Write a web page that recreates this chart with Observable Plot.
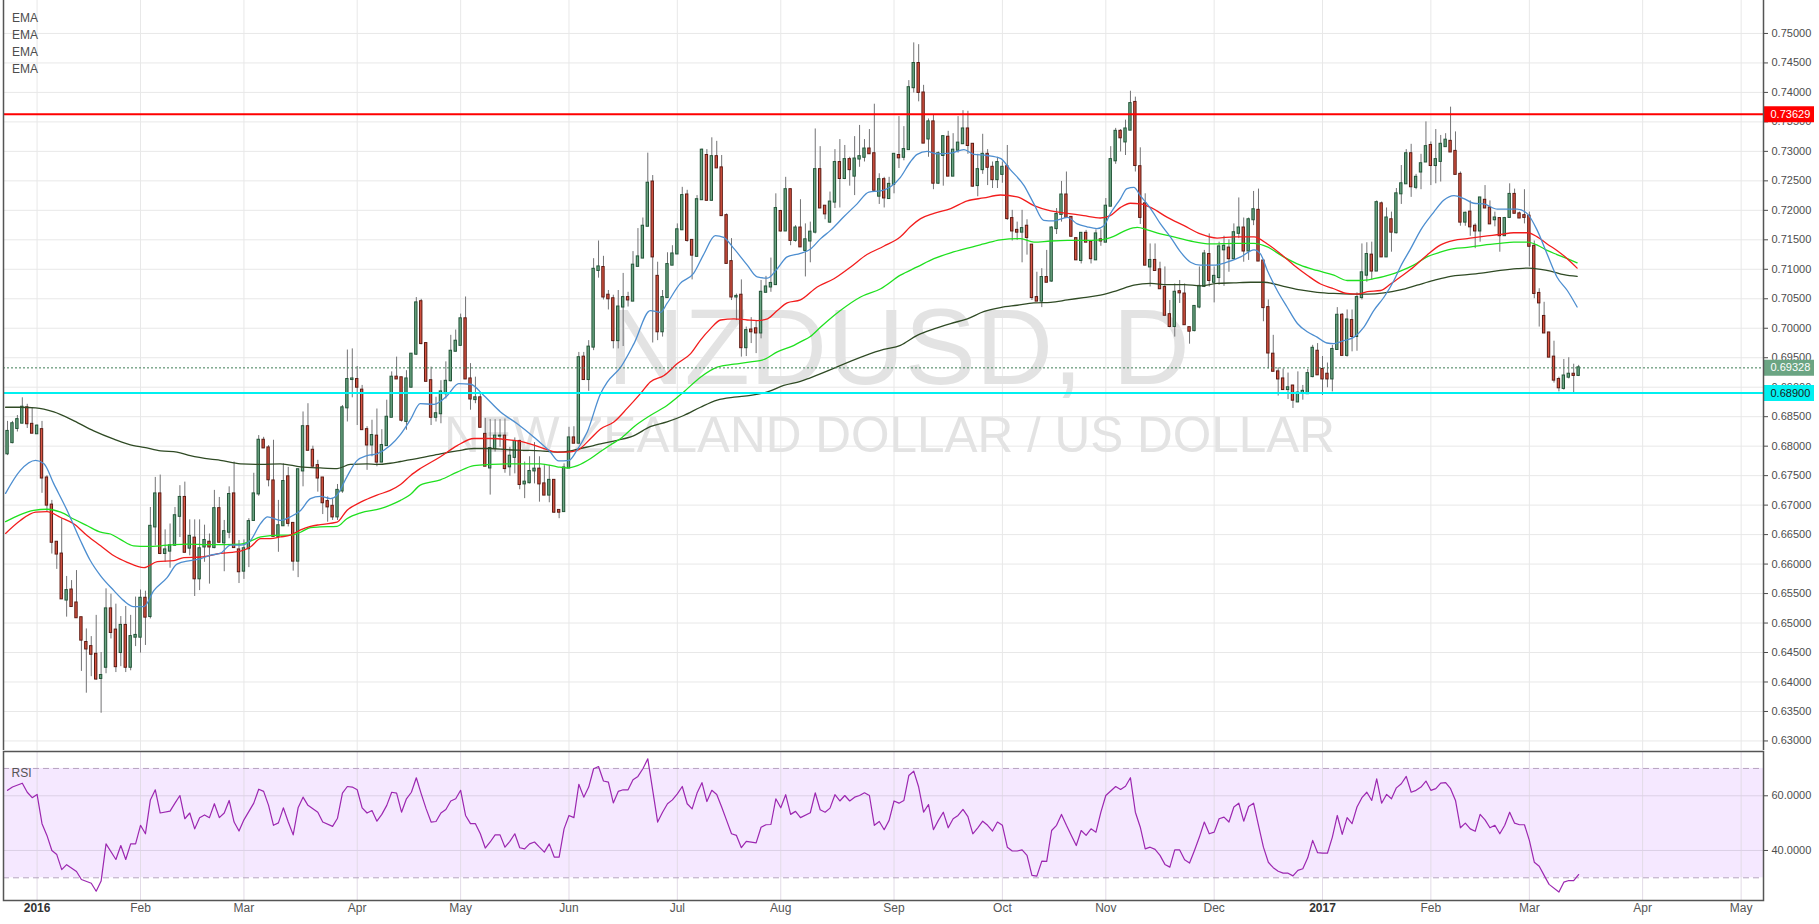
<!DOCTYPE html>
<html>
<head>
<meta charset="utf-8">
<script src="https://cdn.jsdelivr.net/npm/d3@7"></script>
<script src="https://cdn.jsdelivr.net/npm/@observablehq/plot@0.6"></script>
<style>
html,body{margin:0;padding:0;background:#fff;}
#wrap{position:relative;width:1819px;height:924px;overflow:hidden;font-family:"Liberation Sans",Arial,sans-serif;background:#fff;}
#main{position:absolute;left:0;top:0;}
#rsi{position:absolute;left:0;top:750px;}
#legend{position:absolute;left:12px;top:10px;font-size:12px;color:#4d4d4d;line-height:17px;}
</style>
</head>
<body>
<div id="wrap"><div id="main"></div><div id="rsi"></div><div id="legend">EMA<br>EMA<br>EMA<br>EMA</div></div>
<script>
// ---------------- DATA ----------------
const firstBar = -6; // index of first daily bar (weekday count from 1 Jan 2016)
const opens = [
.6787,.6806,.6830,.6839,.6865,.6837,.6821,.6828,.6746,.6700,
.6637,.6617,.6539,.6556,.6534,.6509,.6467,.6460,.6447,.6406,
.6425,.6524,.6488,.6450,.6496,.6425,.6476,.6476,.6542,.6511,
.6663,.6719,.6618,.6622,.6632,.6681,.6713,.6627,.6644,.6575,
.6629,.6637,.6628,.6694,.6636,.6654,.6719,.6624,.6588,.6626,
.6674,.6719,.6810,.6797,.6741,.6647,.6665,.6748,.6669,.6605,
.6758,.6833,.6793,.6767,.6746,.6706,.6698,.6680,.6724,.6865,
.6913,.6913,.6895,.6828,.6802,.6817,.6773,.6801,.6849,.6917,
.6916,.6842,.6900,.6956,.7045,.6974,.6911,.6849,.6855,.6889,
.6911,.6961,.6971,.7016,.6914,.6879,.6882,.6820,.6763,.6796,
.6817,.6817,.6765,.6781,.6808,.6736,.6738,.6758,.6761,.6736,
.6717,.6742,.6691,.6689,.6763,.6814,.6805,.6951,.6913,.6968,
.7098,.7103,.7056,.7050,.6979,.7036,.7052,.7046,.7105,.7119,
.7173,.7248,.7088,.6994,.7052,.7107,.7126,.7167,.7226,.7149,
.7122,.7218,.7293,.7217,.7291,.7272,.7191,.7113,.7053,.7056,
.6967,.6997,.6999,.6992,.7061,.7070,.7074,.7198,.7165,.7235,
.7149,.7170,.7132,.7148,.7163,.7269,.7207,.7180,.7214,.7281,
.7254,.7286,.7258,.7287,.7290,.7304,.7296,.7224,.7252,.7220,
.7244,.7293,.7290,.7303,.7408,.7449,.7399,.7321,.7350,.7246,
.7293,.7324,.7258,.7302,.7313,.7338,.7312,.7242,.7269,.7295,
.7273,.7252,.7261,.7274,.7186,.7166,.7163,.7173,.7141,.7052,
.7046,.7086,.7080,.7169,.7193,.7226,.7188,.7152,.7115,.7161,
.7146,.7116,.7150,.7146,.7207,.7284,.7334,.7316,.7336,.7383,
.7274,.7211,.7104,.7115,.7099,.7069,.7023,.7003,.7062,.7058,
.7001,.6996,.7036,.7071,.7125,.7078,.7086,.7133,.7136,.7118,
.7161,.7170,.7131,.7184,.7200,.7114,.7035,.6956,.6926,.6914,
.6896,.6902,.6875,.6890,.6889,.6918,.6961,.6930,.6922,.6914,
.6964,.7022,.6954,.7013,.6986,.7052,.7090,.7124,.7097,.7211,
.7121,.7184,.7162,.7228,.7245,.7296,.7239,.7265,.7282,.7310,
.7276,.7283,.7308,.7317,.7300,.7261,.7180,.7197,.7173,.7165,
.7217,.7204,.7184,.7186,.7157,.7188,.7227,.7194,.7191,.7190,
.7139,.7059,.7020,.6992,.6951,.6913,.6898,.6917,.6922,.6920];
const highs = [
.6842,.6842,.6852,.6882,.6871,.6865,.6836,.6842,.6750,.6708,
.6637,.6677,.6579,.6572,.6589,.6509,.6490,.6477,.6513,.6450,
.6558,.6549,.6532,.6511,.6528,.6513,.6544,.6556,.6554,.6696,
.6747,.6751,.6658,.6668,.6696,.6733,.6739,.6675,.6675,.6675,
.6666,.6651,.6725,.6713,.6674,.6731,.6773,.6640,.6641,.6677,
.6754,.6818,.6815,.6801,.6810,.6708,.6770,.6764,.6669,.6760,
.6858,.6872,.6800,.6776,.6746,.6714,.6711,.6735,.6869,.6963,
.6965,.6935,.6903,.6833,.6844,.6863,.6828,.6878,.6926,.6951,
.6916,.6928,.6956,.7052,.7049,.6975,.6934,.6883,.6911,.6943,
.6988,.6997,.7024,.7053,.6940,.6917,.6889,.6847,.6845,.6845,
.6845,.6846,.6798,.6814,.6810,.6773,.6782,.6806,.6782,.6767,
.6767,.6742,.6691,.6770,.6832,.6833,.6959,.6959,.6979,.7118,
.7148,.7122,.7064,.7056,.7064,.7093,.7061,.7130,.7169,.7187,
.7297,.7259,.7112,.7064,.7128,.7140,.7177,.7239,.7234,.7149,
.7225,.7304,.7303,.7323,.7317,.7293,.7194,.7152,.7058,.7082,
.7002,.7018,.7013,.7081,.7088,.7119,.7228,.7200,.7256,.7236,
.7174,.7218,.7177,.7180,.7338,.7308,.7207,.7231,.7303,.7320,
.7310,.7290,.7325,.7344,.7320,.7337,.7380,.7262,.7256,.7256,
.7295,.7359,.7342,.7420,.7484,.7481,.7412,.7355,.7361,.7299,
.7325,.7334,.7330,.7359,.7369,.7368,.7312,.7295,.7329,.7303,
.7282,.7290,.7282,.7310,.7200,.7180,.7200,.7184,.7141,.7095,
.7101,.7132,.7172,.7203,.7249,.7265,.7188,.7152,.7161,.7166,
.7146,.7167,.7167,.7220,.7308,.7339,.7337,.7353,.7402,.7392,
.7306,.7228,.7143,.7143,.7112,.7104,.7047,.7075,.7081,.7075,
.7001,.7037,.7104,.7132,.7160,.7104,.7146,.7156,.7150,.7177,
.7221,.7187,.7187,.7232,.7236,.7114,.7048,.6988,.6933,.6931,
.6924,.6903,.6926,.6903,.6930,.6971,.6974,.6952,.6941,.6971,
.7035,.7025,.7031,.7031,.7060,.7143,.7145,.7146,.7216,.7214,
.7204,.7197,.7237,.7276,.7303,.7312,.7261,.7295,.7350,.7316,
.7337,.7327,.7330,.7375,.7333,.7265,.7197,.7216,.7177,.7221,
.7242,.7216,.7197,.7186,.7188,.7245,.7236,.7197,.7235,.7197,
.7148,.7067,.7044,.6992,.6978,.6917,.6947,.6950,.6939,.6937];
const lows = [
.6784,.6804,.6824,.6838,.6830,.6822,.6820,.6720,.6688,.6617,
.6591,.6541,.6510,.6528,.6509,.6418,.6381,.6409,.6403,.6347,
.6414,.6473,.6416,.6426,.6416,.6419,.6460,.6449,.6462,.6507,
.6631,.6616,.6603,.6593,.6630,.6645,.6620,.6614,.6545,.6555,
.6603,.6566,.6626,.6636,.6587,.6643,.6628,.6567,.6574,.6594,
.6674,.6715,.6796,.6731,.6647,.6620,.6665,.6663,.6588,.6577,
.6731,.6793,.6765,.6722,.6684,.6671,.6674,.6674,.6720,.6841,
.6882,.6835,.6828,.6759,.6782,.6765,.6773,.6801,.6849,.6914,
.6841,.6827,.6899,.6954,.6972,.6909,.6835,.6841,.6838,.6880,
.6909,.6960,.6970,.6914,.6861,.6872,.6832,.6766,.6717,.6790,
.6798,.6754,.6749,.6753,.6726,.6711,.6736,.6736,.6705,.6717,
.6704,.6686,.6677,.6688,.6763,.6805,.6804,.6913,.6893,.6962,
.7085,.7048,.7031,.6965,.6965,.6969,.7036,.7046,.7105,.7119,
.7173,.6975,.6979,.6985,.7052,.7107,.7125,.7167,.7146,.7082,
.7121,.7218,.7217,.7216,.7272,.7191,.7109,.7047,.7013,.6951,
.6952,.6974,.6957,.6982,.7060,.7061,.7073,.7163,.7165,.7140,
.7146,.7138,.7087,.7111,.7160,.7203,.7184,.7178,.7203,.7204,
.7252,.7241,.7225,.7273,.7282,.7295,.7234,.7210,.7204,.7220,
.7228,.7271,.7284,.7303,.7399,.7384,.7314,.7290,.7235,.7244,
.7241,.7258,.7258,.7297,.7312,.7295,.7239,.7223,.7261,.7242,
.7237,.7237,.7246,.7183,.7148,.7149,.7111,.7124,.7047,.7046,
.7035,.7078,.7078,.7159,.7180,.7188,.7155,.7116,.7109,.7146,
.7109,.7115,.7139,.7146,.7207,.7278,.7299,.7293,.7336,.7265,
.7176,.7107,.7070,.7098,.7067,.7022,.7001,.6985,.7042,.7006,
.6973,.6994,.7033,.7069,.7070,.7043,.7073,.7071,.7095,.7118,
.7152,.7112,.7115,.7174,.7114,.7011,.6931,.6927,.6885,.6895,
.6879,.6864,.6875,.6878,.6888,.6916,.6920,.6886,.6899,.6892,
.6964,.6954,.6951,.6960,.6961,.7048,.7078,.7082,.7097,.7121,
.7121,.7129,.7160,.7210,.7244,.7222,.7235,.7235,.7282,.7242,
.7245,.7248,.7308,.7299,.7261,.7173,.7173,.7156,.7135,.7146,
.7204,.7177,.7172,.7129,.7156,.7188,.7195,.7186,.7177,.7104,
.7050,.7002,.6992,.6951,.6907,.6892,.6895,.6914,.6889,.6918];
const closes = [
.6825,.6838,.6845,.6866,.6838,.6822,.6834,.6746,.6700,.6637,
.6617,.6541,.6555,.6528,.6509,.6471,.6456,.6447,.6405,.6411,
.6524,.6484,.6426,.6496,.6425,.6477,.6479,.6542,.6510,.6664,
.6719,.6618,.6624,.6631,.6682,.6713,.6620,.6647,.6575,.6626,
.6640,.6629,.6694,.6637,.6655,.6718,.6628,.6587,.6626,.6672,
.6719,.6810,.6797,.6743,.6647,.6665,.6740,.6669,.6605,.6760,
.6833,.6793,.6766,.6746,.6704,.6697,.6680,.6725,.6865,.6913,
.6914,.6900,.6828,.6802,.6818,.6773,.6801,.6849,.6917,.6914,
.6844,.6914,.6956,.7043,.6974,.6910,.6849,.6855,.6892,.6910,
.6961,.6978,.7016,.6914,.6880,.6882,.6832,.6766,.6796,.6817,
.6817,.6762,.6783,.6808,.6735,.6739,.6757,.6761,.6736,.6717,
.6742,.6688,.6688,.6763,.6814,.6805,.6950,.6913,.6968,.7100,
.7104,.7053,.7050,.6979,.7036,.7052,.7048,.7107,.7121,.7173,
.7246,.7121,.6994,.7052,.7108,.7126,.7167,.7225,.7149,.7124,
.7218,.7302,.7217,.7291,.7272,.7191,.7110,.7053,.7054,.6967,
.6996,.6994,.6992,.7061,.7070,.7076,.7203,.7165,.7235,.7149,
.7170,.7138,.7150,.7163,.7269,.7204,.7194,.7214,.7281,.7254,
.7286,.7269,.7287,.7291,.7304,.7296,.7234,.7252,.7221,.7244,
.7295,.7289,.7303,.7408,.7449,.7400,.7314,.7350,.7246,.7296,
.7325,.7258,.7302,.7314,.7338,.7310,.7241,.7269,.7295,.7273,
.7252,.7281,.7273,.7186,.7165,.7163,.7169,.7154,.7052,.7046,
.7086,.7078,.7170,.7193,.7226,.7188,.7156,.7116,.7161,.7146,
.7118,.7160,.7148,.7207,.7286,.7334,.7323,.7338,.7381,.7276,
.7188,.7107,.7115,.7098,.7067,.7022,.7003,.7061,.7060,.7006,
.6995,.7037,.7071,.7126,.7081,.7088,.7138,.7139,.7118,.7162,
.7170,.7131,.7184,.7201,.7114,.7035,.6958,.6927,.6914,.6896,
.6899,.6878,.6890,.6893,.6923,.6966,.6921,.6914,.6914,.6964,
.7022,.6954,.7014,.6986,.7052,.7094,.7125,.7097,.7213,.7121,
.7187,.7163,.7228,.7245,.7296,.7240,.7256,.7279,.7308,.7276,
.7286,.7312,.7319,.7299,.7261,.7180,.7195,.7172,.7165,.7221,
.7204,.7177,.7187,.7157,.7186,.7227,.7195,.7187,.7188,.7139,
.7059,.7043,.6992,.6951,.6912,.6899,.6919,.6922,.6920,.69328];

// EMA curves: [bar index, value]
const emaFast = [[-6.4,.6720],[-3.4,.6759],[-0.3,.6776],[1.4,.6770],[3.4,.6736],[6.1,.6691],[8.8,.6640],[10.8,.6606],[12.9,.6580],[15.6,.6555],[17.6,.6538],[19.6,.6528],[21.7,.6528],[23.7,.6555],[26.4,.6577],[28.4,.6600],[31.1,.6606],[33.2,.6609],[35.2,.6615],[37.2,.6618],[39.3,.6632],[41.3,.6632],[43.3,.6640],[45.4,.6669],[46.8,.6680],[49.4,.6674],[51.4,.6680],[53.5,.6691],[55.5,.6711],[57.5,.6715],[59.6,.6711],[60.9,.6717],[62.9,.6748],[64.9,.6775],[67,.6784],[69,.6787],[71.7,.6801],[73.8,.6820],[75.8,.6845],[77.8,.6872],[80.6,.6871],[83.3,.6886],[85.6,.6906],[88,.6905],[90.7,.6886],[94.1,.6858],[97.5,.6838],[100.9,.6815],[104.2,.6790],[105.9,.6775],[108,.6776],[109.6,.6793],[111.7,.6824],[114.4,.6889],[115.8,.6909],[118.5,.6934],[121.2,.6974],[124.5,.7030],[126.6,.7027],[127.9,.7042],[130.6,.7076],[133.3,.7093],[135.4,.7126],[137.7,.7157],[139.4,.7154],[141.5,.7135],[144.2,.7107],[146.2,.7087],[148.3,.7085],[150.3,.7101],[152.3,.7121],[155,.7127],[157,.7134],[159.1,.7152],[161.1,.7166],[163.8,.7189],[166.5,.7211],[168.9,.7231],[171.3,.7233],[173.3,.7240],[175.3,.7256],[177.3,.7282],[178.7,.7295],[180.7,.7300],[182.7,.7296],[185.5,.7297],[188.2,.7303],[190.2,.7295],[192.9,.7293],[195.6,.7288],[197.6,.7269],[200.4,.7242],[202.4,.7211],[204.4,.7183],[206.4,.7182],[209.2,.7188],[211.2,.7177],[213.2,.7172],[215.2,.7169],[216.6,.7174],[217.9,.7194],[220,.7220],[221.3,.7237],[222.7,.7239],[224,.7225],[226.1,.7203],[228.1,.7177],[230.1,.7155],[232.2,.7129],[234.2,.7112],[236.2,.7107],[238.9,.7107],[241.6,.7112],[244.4,.7121],[247.1,.7133],[248.4,.7126],[249.8,.7098],[251.8,.7064],[253.8,.7036],[255.9,.7008],[257.9,.6994],[259.9,.6985],[261.9,.6975],[263.3,.6974],[265.3,.6979],[267.4,.6985],[269.4,.7002],[271.4,.7030],[273.5,.7053],[275.5,.7081],[276.8,.7104],[278.9,.7135],[280.9,.7166],[283.6,.7197],[285.6,.7217],[287.7,.7225],[289.7,.7220],[291.7,.7212],[293.7,.7211],[296.5,.7202],[298.5,.7202],[300.5,.7202],[302.6,.7194],[304.6,.7166],[306.6,.7126],[308.6,.7087],[310.7,.7064],[312.7,.7036]];
const emaMid = [[-6.4,.6652],[-3.4,.6674],[-0.3,.6688],[2,.6689],[4.8,.6679],[7.5,.6668],[10.2,.6648],[12.9,.6631],[15.6,.6614],[18.3,.6603],[21.7,.6594],[24.4,.6604],[27.8,.6606],[29.8,.6611],[33.2,.6612],[37.2,.6618],[41.3,.6622],[43.3,.6629],[45.4,.6643],[47.4,.6643],[49.4,.6646],[51.4,.6649],[53.5,.6658],[55.5,.6664],[57.5,.6667],[60.9,.6671],[62.9,.6691],[65.7,.6705],[69,.6717],[71.7,.6725],[73.8,.6735],[75.8,.6750],[77.8,.6762],[81.9,.6782],[85.3,.6801],[88.7,.6813],[92.1,.6813],[95.4,.6811],[98.8,.6807],[102.2,.6798],[105.6,.6790],[107.6,.6790],[109.7,.6793],[112.4,.6813],[114.4,.6829],[117.1,.6841],[119.8,.6864],[122.5,.6889],[124.5,.6909],[127.3,.6920],[130,.6940],[132.7,.6957],[134.7,.6980],[136.7,.6999],[138.8,.7014],[141.5,.7016],[144.2,.7014],[146.2,.7013],[148.3,.7016],[150.3,.7030],[152.3,.7043],[155,.7048],[158.4,.7070],[161.8,.7084],[165.2,.7104],[168.5,.7125],[171.9,.7139],[175.3,.7155],[177.3,.7172],[179.4,.7186],[182.1,.7195],[185.5,.7203],[188.9,.7216],[192.2,.7221],[195.6,.7226],[199,.7223],[202.4,.7208],[205.8,.7199],[209.2,.7195],[212.5,.7191],[215.9,.7187],[217.9,.7191],[220,.7205],[222,.7212],[224,.7211],[226.1,.7205],[229.5,.7188],[232.9,.7174],[236.2,.7160],[239.6,.7153],[243,.7155],[247.1,.7155],[249.8,.7143],[252.5,.7126],[255.2,.7107],[257.9,.7090],[260.6,.7075],[263.3,.7067],[266,.7059],[268,.7058],[270.1,.7062],[272.8,.7064],[274.8,.7075],[276.8,.7087],[279.5,.7104],[282.2,.7124],[284.9,.7141],[287.7,.7149],[290.4,.7152],[293.7,.7156],[297.1,.7159],[299.8,.7162],[302.6,.7162],[304.6,.7155],[306.6,.7143],[308.6,.7132],[310.7,.7118],[312.7,.7102]];
const emaSlow = [[-6.4,.6672],[-3.4,.6684],[-0.7,.6691],[2,.6693],[4.8,.6688],[7.5,.6676],[10.2,.6665],[12.9,.6654],[14.9,.6651],[16.9,.6642],[19.6,.6631],[22.4,.6630],[25.1,.6631],[27.8,.6633],[30.5,.6634],[35.2,.6633],[41.3,.6634],[43.3,.6639],[45.4,.6646],[49.4,.6649],[51.4,.6649],[53.5,.6654],[55.5,.6662],[57.5,.6663],[60.9,.6664],[62.9,.6677],[65.7,.6687],[69.7,.6694],[71.7,.6700],[73.8,.6708],[75.8,.6718],[77.8,.6734],[81.9,.6743],[85.3,.6756],[88.7,.6767],[92.1,.6769],[95.4,.6770],[98.8,.6770],[102.2,.6770],[105.6,.6765],[107.6,.6763],[109.7,.6767],[112.4,.6779],[114.4,.6791],[116.4,.6802],[118.5,.6813],[121.2,.6833],[124.5,.6852],[127.9,.6869],[131.3,.6892],[134.7,.6917],[138.1,.6934],[141.5,.6939],[144.9,.6943],[147.6,.6947],[150.3,.6960],[153.7,.6971],[155,.6977],[157,.6986],[159.1,.7002],[163.1,.7030],[167.2,.7053],[171.3,.7067],[175.3,.7090],[178.7,.7104],[182.1,.7118],[185.5,.7128],[188.9,.7136],[192.2,.7143],[195.6,.7150],[199.7,.7152],[202.4,.7146],[205.8,.7148],[209.2,.7149],[212.5,.7149],[215.9,.7150],[218.6,.7156],[221.3,.7167],[223.4,.7171],[225.4,.7167],[228.1,.7160],[230.8,.7155],[234.2,.7148],[238.3,.7143],[243,.7144],[247.1,.7144],[249.8,.7138],[253.1,.7121],[256.5,.7107],[259.9,.7098],[263.3,.7090],[266,.7081],[268.7,.7081],[271.4,.7084],[274.8,.7091],[276.8,.7097],[279.5,.7107],[282.2,.7121],[284.9,.7129],[287.7,.7135],[290.4,.7137],[293.7,.7141],[297.1,.7144],[299.8,.7146],[302.6,.7146],[304.6,.7141],[306.6,.7132],[308.6,.7125],[310.7,.7118],[312.7,.7111]];
const emaLong = [[-6.4,.6866],[-3.4,.6866],[-0.3,.6865],[3.4,.6858],[7.5,.6843],[11.5,.6826],[15.6,.6812],[19.6,.6801],[21.7,.6798],[25.1,.6792],[28.4,.6790],[31.1,.6784],[35.2,.6778],[37.2,.6776],[41.3,.6770],[45.4,.6769],[49.4,.6770],[53.5,.6765],[57.5,.6763],[60.9,.6762],[63.6,.6769],[67,.6770],[69,.6769],[71.7,.6771],[73.8,.6774],[77.8,.6780],[81.9,.6787],[85.3,.6792],[88.7,.6796],[92.1,.6796],[95.4,.6794],[98.8,.6793],[102.2,.6792],[105.6,.6790],[108.3,.6792],[110.3,.6796],[113,.6801],[114.4,.6804],[117.8,.6810],[121.2,.6818],[124.5,.6833],[127.9,.6841],[131.3,.6852],[134.7,.6866],[138.1,.6878],[141.5,.6883],[144.9,.6886],[148.3,.6892],[151.6,.6903],[155,.6910],[157,.6916],[171.9,.6964],[175.3,.6971],[178.7,.6988],[182.1,.6999],[185.5,.7008],[188.9,.7016],[192.2,.7028],[195.6,.7035],[199,.7039],[202.4,.7043],[205.8,.7044],[209.2,.7048],[212.5,.7052],[215.9,.7056],[219.3,.7064],[222.7,.7073],[226.1,.7076],[229.5,.7074],[232.9,.7074],[236.2,.7072],[239.6,.7076],[243,.7077],[246.4,.7078],[249.1,.7078],[253.1,.7071],[256.5,.7065],[259.9,.7061],[263.3,.7059],[266.7,.7058],[270.1,.7058],[273.5,.7060],[276.8,.7065],[280.2,.7073],[283.6,.7081],[287,.7088],[290.4,.7091],[293.7,.7094],[297.1,.7098],[300.5,.7101],[302.6,.7102],[305.3,.7100],[307.3,.7097],[310,.7091],[312.7,.7088]];

// RSI: [bar index, value]
const rsiPoints = [[-6,62.0],[-5,63.2],[-3,64.6],[-2,61.3],[-1,59.3],[0,60.5],[1,49.8],[2,45.5],[3,40.0],[4,38.5],[5,33.0],[6,34.8],[8,32.3],[9,29.4],[11,28.0],[12,25.1],[13,28.8],[14,42.4],[16,36.7],[17,41.8],[18,36.7],[19,42.4],[20,42.4],[21,49.2],[22,46.1],[23,58.5],[24,62.2],[25,53.7],[27,54.4],[28,57.3],[29,60.1],[30,51.6],[31,53.7],[32,47.9],[33,52.0],[34,53.0],[35,52.0],[36,57.1],[37,52.0],[38,53.7],[39,58.3],[40,50.4],[41,47.1],[42,51.2],[44,57.3],[45,62.4],[46,61.6],[47,56.5],[48,49.2],[49,50.1],[50,55.6],[51,50.4],[52,45.7],[53,55.6],[54,59.5],[55,56.5],[57,54.0],[58,50.4],[60,48.8],[61,51.8],[62,61.0],[63,63.4],[64,63.2],[65,62.2],[66,55.6],[67,53.7],[68,54.6],[69,50.7],[70,53.2],[71,56.5],[72,61.3],[73,61.0],[74,54.0],[75,58.9],[76,61.3],[77,66.6],[78,60.7],[79,55.2],[80,50.4],[81,50.6],[82,53.7],[83,55.0],[84,58.1],[85,58.9],[86,62.0],[87,52.8],[88,49.8],[89,49.8],[90,46.1],[91,40.9],[92,43.1],[93,45.7],[94,45.7],[95,41.2],[96,43.3],[97,46.1],[98,41.0],[99,40.6],[100,42.4],[101,43.1],[102,41.2],[103,39.4],[104,42.4],[105,37.6],[106,37.6],[107,47.9],[108,52.8],[109,52.0],[110,64.2],[111,59.5],[112,63.2],[113,69.9],[114,70.7],[115,65.4],[116,65.0],[117,57.4],[118,61.6],[119,62.2],[120,62.2],[121,65.9],[122,67.1],[123,69.9],[124,73.5],[125,62.0],[126,50.4],[127,54.0],[128,57.1],[129,58.5],[130,60.7],[131,63.4],[132,57.1],[133,55.2],[134,61.0],[135,64.8],[136,57.9],[137,62.0],[138,60.5],[139,55.9],[140,51.0],[141,46.1],[142,45.5],[143,41.0],[144,43.3],[146,42.8],[147,48.5],[148,49.4],[149,49.5],[150,58.9],[151,55.6],[152,60.4],[153,53.2],[154,54.3],[155,52.0],[157,53.8],[158,61.1],[159,54.9],[160,54.0],[161,55.5],[162,60.4],[163,58.1],[164,60.1],[165,58.1],[166,59.5],[167,60.1],[168,61.1],[169,60.1],[170,49.2],[171,50.6],[172,47.6],[173,51.0],[174,58.1],[175,57.3],[176,58.3],[177,67.4],[178,69.0],[179,63.2],[180,54.0],[181,56.8],[182,47.6],[183,51.0],[184,54.0],[185,48.3],[186,51.6],[187,52.8],[188,55.0],[189,52.4],[190,46.1],[191,48.3],[192,50.7],[193,49.2],[194,47.1],[195,50.4],[196,49.2],[197,41.2],[198,39.8],[199,39.8],[200,40.2],[201,38.2],[202,30.9],[203,30.6],[204,36.1],[205,36.0],[206,47.3],[207,49.2],[208,53.2],[209,49.2],[210,45.5],[211,41.8],[212,47.3],[213,45.5],[214,47.9],[215,46.7],[216,54.0],[217,60.1],[219,63.4],[220,62.3],[221,63.5],[222,66.6],[223,54.0],[224,48.5],[225,40.6],[226,41.2],[227,40.4],[228,38.2],[229,34.9],[230,33.9],[231,40.2],[232,40.2],[233,36.6],[234,35.4],[235,40.0],[236,44.9],[237,50.4],[238,46.1],[239,46.7],[240,51.6],[241,52.2],[242,50.4],[243,55.9],[244,57.3],[245,50.7],[246,56.1],[247,57.3],[248,49.2],[249,41.2],[250,35.7],[251,33.7],[252,32.4],[253,31.7],[254,31.7],[255,30.7],[256,32.7],[257,33.3],[258,37.3],[259,43.7],[260,39.2],[261,39.0],[262,39.0],[263,44.9],[264,52.8],[265,45.9],[266,52.0],[267,49.8],[268,55.9],[269,59.3],[270,61.3],[271,58.3],[272,66.2],[273,57.3],[274,60.5],[275,58.9],[276,62.9],[277,64.4],[278,67.1],[279,61.3],[280,62.0],[281,63.2],[282,65.4],[283,62.0],[284,62.6],[285,64.6],[286,64.8],[287,62.6],[288,58.3],[289,48.3],[290,50.0],[291,47.9],[292,47.0],[293,53.2],[294,51.2],[295,48.3],[296,49.2],[297,46.1],[298,49.2],[299,54.0],[300,50.0],[301,49.4],[302,49.4],[303,43.7],[304,35.7],[305,34.2],[306,30.9],[307,27.6],[309,24.8],[310,28.4],[311,29.0],[312,29.0],[313,31.2]];

const resistance = [0.73629];
const support = [0.68900];
const rsiBand = [30, 70];
const priceTicks = [0.630,0.635,0.640,0.645,0.650,0.655,0.660,0.665,0.670,0.675,0.680,0.685,0.690,0.695,0.700,0.705,0.710,0.715,0.720,0.725,0.730,0.735,0.740,0.745,0.750];
const rsiTicks = [40, 60];
const monthTickIdx = [0,21,42,65,86,108,130,151,174,196,217,239,261,283,303,326,346];
const monthTickLabel = ["2016","Feb","Mar","Apr","May","Jun","Jul","Aug","Sep","Oct","Nov","Dec","2017","Feb","Mar","Apr","May"];
const watermark = "NZDUSD, D";
const watermarkSub = "NEW ZEALAND DOLLAR / US DOLLAR";

// ---------------- LAYOUT ----------------
const W = 1819, H1 = 750, H2 = 174;
const PL = 3, PR = 1763;
const xDomain = [-6.82, 350.54];
const yDomain = [0.62838, 0.75559];
const FONT = "'Liberation Sans', Arial, sans-serif";
const AXIS = "#4d4d4d";

const bars = opens.map((o, k) => ({i: k + firstBar, o, h: highs[k], l: lows[k], c: closes[k]}));
const upBars = bars.filter(d => d.c >= d.o);
const downBars = bars.filter(d => d.c < d.o);
const lastClose = [closes[closes.length - 1]];
const ticks = monthTickIdx.map((i, k) => ({i, label: monthTickLabel[k], year: /^\d{4}$/.test(monthTickLabel[k])}));
const fmt5 = d3.format(".5f");
const bw = 0.24;

const emaLine = (data, color) => Plot.line(data, {x: d => d[0], y: d => d[1], stroke: color, strokeWidth: 1.3, curve: "monotone-x"});
const levelBox = (vals, color, textColor) => [
  Plot.ruleY(vals, {stroke: color, strokeWidth: 16, insetLeft: PR - PL + 1, insetRight: -51}),
  Plot.text(vals, {y: d => d, frameAnchor: "right", dx: 7, textAnchor: "start", text: fmt5, fill: textColor, fontSize: 11})
];

const main = Plot.plot({
  width: W, height: H1,
  marginLeft: PL, marginRight: W - PR, marginTop: 0, marginBottom: 0,
  style: {fontFamily: FONT, fontSize: "11px", color: AXIS, background: "white"},
  x: {type: "linear", domain: xDomain, axis: null},
  y: {type: "linear", domain: yDomain, axis: null},
  marks: [
    Plot.gridY(priceTicks, {stroke: "#e8e8e8", strokeOpacity: 1}),
    Plot.gridX(monthTickIdx, {stroke: "#e8e8e8", strokeOpacity: 1}),
    Plot.text([watermark], {frameAnchor: "top-left", dx: 895, dy: 383, text: d => d, fontSize: 107, fill: "#e3e3e3", textAnchor: "middle", lineAnchor: "bottom"}),
    Plot.text([watermarkSub], {frameAnchor: "top-left", dx: 886, dy: 451, text: d => d, fontSize: 49.5, fill: "#e3e3e3", textAnchor: "middle", lineAnchor: "bottom"}),
    Plot.ruleX(bars, {x: "i", y1: "l", y2: "h", stroke: "#737375", strokeWidth: 1}),
    Plot.rect(upBars, {x1: d => d.i - bw, x2: d => d.i + bw, y1: "o", y2: "c", fill: "#6ba583", stroke: "#225437", strokeWidth: 1, insetTop: -0.5, insetBottom: -0.5}),
    Plot.rect(downBars, {x1: d => d.i - bw, x2: d => d.i + bw, y1: "o", y2: "c", fill: "#d75442", stroke: "#5b1a13", strokeWidth: 1, insetTop: -0.5, insetBottom: -0.5}),
    emaLine(emaLong, "#2f4a24"),
    emaLine(emaSlow, "#1fe01f"),
    emaLine(emaMid, "#f21d1d"),
    emaLine(emaFast, "#4d8ed0"),
    Plot.ruleY(lastClose, {stroke: "#3f7d57", strokeWidth: 1, strokeDasharray: "2,2"}),
    Plot.ruleY(support, {stroke: "#00f0f0", strokeWidth: 2}),
    Plot.ruleY(resistance, {stroke: "#ff0000", strokeWidth: 2}),
    Plot.axisY(priceTicks, {anchor: "right", tickFormat: fmt5, tickSize: 4, tickPadding: 4, color: AXIS, fontSize: 11}),
    ...levelBox(lastClose, "#6ba583", "white"),
    ...levelBox(support, "#00f0f0", "#1a1a1a"),
    ...levelBox(resistance, "#ff0000", "white"),
    Plot.ruleX([xDomain[0], xDomain[1]], {stroke: "#555", strokeWidth: 1.5})
  ]
});
document.getElementById("main").appendChild(main);

const rsiChart = Plot.plot({
  width: W, height: H2,
  marginLeft: PL, marginRight: W - PR, marginTop: 1, marginBottom: 24,
  style: {fontFamily: FONT, fontSize: "11px", color: AXIS, background: "white"},
  x: {type: "linear", domain: xDomain, axis: null},
  y: {type: "linear", domain: [21.7, 76.2], axis: null},
  marks: [
    Plot.rect([rsiBand], {y1: d => d[0], y2: d => d[1], fill: "#f5e8ff"}),
    Plot.gridX(monthTickIdx, {stroke: "#e2dbe6", strokeOpacity: 1}),
    Plot.gridY(rsiTicks, {stroke: "#dcd0e6", strokeOpacity: 1}),
    Plot.ruleY(rsiBand, {stroke: "#b6a3c0", strokeDasharray: "6,4"}),
    Plot.line(rsiPoints, {x: d => d[0], y: d => d[1], stroke: "#9c27b0", strokeWidth: 1.2}),
    Plot.axisY(rsiTicks, {anchor: "right", tickFormat: d3.format(".4f"), tickSize: 4, tickPadding: 4, color: AXIS, fontSize: 11}),
    Plot.text(["RSI"], {frameAnchor: "top-left", dx: 8, dy: 17, text: d => d, fontSize: 12, fill: "#555", textAnchor: "start"}),
    Plot.text(ticks.filter(d => !d.year), {x: "i", text: "label", frameAnchor: "bottom", dy: 11, fontSize: 12, fill: "#555"}),
    Plot.text(ticks.filter(d => d.year), {x: "i", text: "label", frameAnchor: "bottom", dy: 11, fontSize: 12, fill: "#333", fontWeight: "bold"}),
    Plot.frame({stroke: "#555", strokeWidth: 1.5})
  ]
});
document.getElementById("rsi").appendChild(rsiChart);
</script>
</body>
</html>
